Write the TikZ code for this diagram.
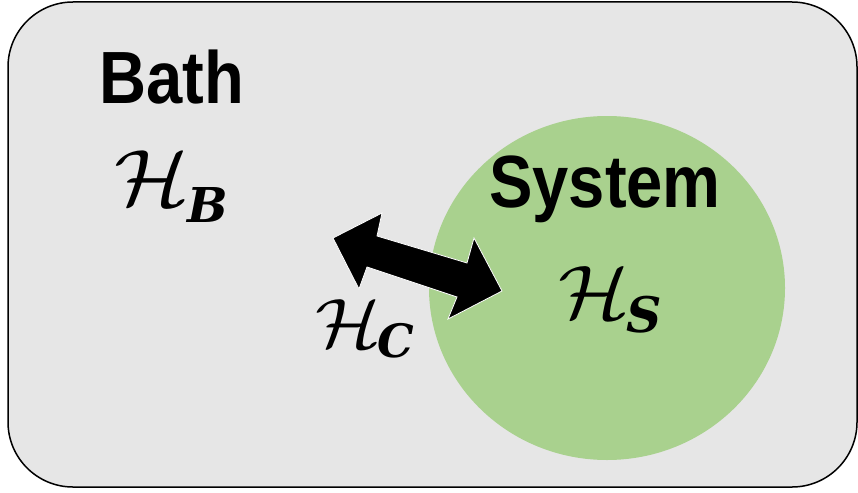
\RequirePackage{fix-cm}
\documentclass[tikz,border=0pt]{standalone}
\usepackage{fontspec}
\newfontfamily\labelfont[FakeStretch=0.88]{Liberation Sans}
\newfontfamily\subfont{DejaVu Serif}
\definecolor{bathgray}{HTML}{E6E6E6}
\definecolor{sysgreen}{HTML}{A9D18E}
\usetikzlibrary{shapes.geometric}
\newcommand{\hamsym}[5]{% size, subsize, kern, drop, letter
  \fontsize{#1}{#1}\selectfont\scalebox{1.1}[1]{$\mathcal{H}$}\kern#3\raisebox{-#4}{\subfont\bfseries\itshape\fontsize{#2}{#2}\selectfont #5}}
\tikzset{
  title/.style={font=\labelfont\bfseries\fontsize{74}{80}\selectfont, inner sep=0pt, anchor=base},
  ham/.style={inner sep=0pt, anchor=base west},
}
\begin{document}
\begin{tikzpicture}[x=1pt,y=-1pt]
\useasboundingbox (0,0) rectangle (858,492);
% bath box
\draw[fill=bathgray, line width=1.5pt, rounded corners=65pt] (8,2) rectangle (857,487);
% system ellipse
\node[ellipse, fill=sysgreen, minimum width=356pt, minimum height=344pt, inner sep=0pt] (sys) at (607,288) {};
% labels
\node[title] (bath) at (171.5,103) {Bath};
\node[title] (system) at (605,207) {System};
\node[ham] (hb) at (114,205) {\hamsym{80pt}{48pt}{-2pt}{17pt}{B}};
\node[ham] (hs) at (558,318) {\hamsym{76pt}{49pt}{-3pt}{14pt}{S}};
\node[ham] (hc) at (315,347) {\hamsym{70pt}{46pt}{-3pt}{10pt}{C}};
% coupling double arrow
\draw[fill=black, draw=white, line width=0.8pt, line join=miter]
  (333,238) -- (382,213) -- (377,236) -- (467,263) -- (474,238) -- (502,291)
  -- (448,319) -- (457,297) -- (367,267) -- (359,289) -- cycle;
\end{tikzpicture}
\end{document}
